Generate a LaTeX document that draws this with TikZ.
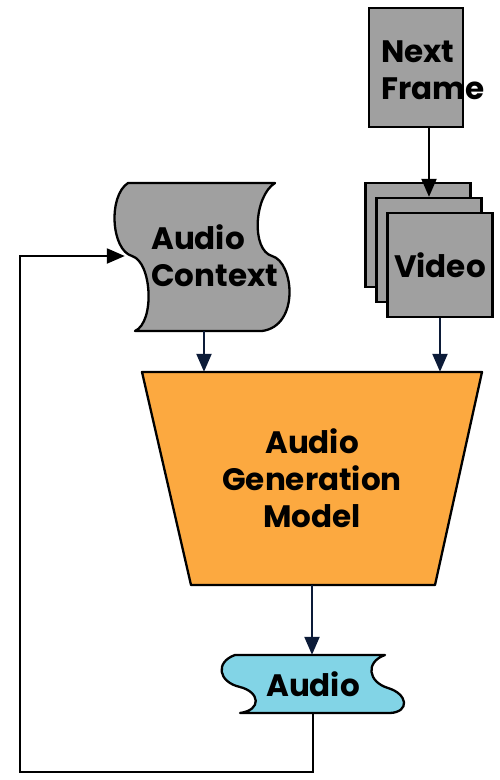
\documentclass[tikz,border=0pt]{standalone}
\usepackage{fontspec}
\setmainfont{Poppins}
\usetikzlibrary{arrows.meta,calc}
\definecolor{boxgray}{RGB}{160,160,160}
\definecolor{genorange}{RGB}{252,169,64}
\definecolor{audiocyan}{RGB}{130,212,230}
\definecolor{navy}{RGB}{12,27,56}
\begin{document}
\begin{tikzpicture}[x=1pt,y=-1pt,
  shapeline/.style={draw=black, line width=2.3pt, line join=round},
  lbl/.style={font=\fontsize{31}{37}\selectfont\bfseries, inner sep=0pt, text=black},
  anchorbox/.style={draw=none, inner sep=0pt},
  framebox/.style={draw=black, line width=2.3pt, fill=boxgray, inner sep=0pt, minimum width=105pt, minimum height=104pt},
  flow/.style={draw=navy, line width=2.2pt, -{Triangle[length=18pt,width=15pt]}},
  blackflow/.style={draw=black, line width=2.2pt, -{Triangle[length=18pt,width=15pt]}},
]
\useasboundingbox (0,0) rectangle (500,780);

% Next Frame
\node[framebox, minimum width=94pt, minimum height=119pt] (nf) at (416,67.5) {};
\node[lbl, anchor=west, align=left] (nft) at (381,70) {Next\\Frame};

% Video stack
\node[framebox] (v1) at (418,235) {};
\node[framebox] (v2) at (429,250) {};
\node[framebox, lbl] (v3) at (440,265) {Video};

% Audio Context (tape shape)
\path[shapeline, fill=boxgray] (128,183) -- (275,183)
  .. controls (254,196) and (251,250) .. (272,256)
  .. controls (294,262) and (300,326) .. (262,331)
  -- (135,331)
  .. controls (155,322) and (152,262) .. (132,256)
  .. controls (111,250) and (108,196) .. (128,183) -- cycle;
\node[anchorbox, minimum width=158pt, minimum height=150pt] (ctx) at (204,256) {};
\node[lbl, anchor=west, align=left] (ctxt) at (151,256) {Audio\\Context};

% Generation model (trapezoid)
\path[shapeline, fill=genorange] (142,372) -- (482,372) -- (435,585) -- (191,585) -- cycle;
\node[anchorbox, lbl, align=center, minimum width=340pt, minimum height=213pt] (gen) at (312,478.5) {Audio\\Generation\\Model};

% Audio (tape shape)
\path[shapeline, fill=audiocyan] (235,655) -- (385,655)
  .. controls (365,662) and (368,682) .. (388,688)
  .. controls (408,694) and (410,712) .. (390,713)
  -- (240,713)
  .. controls (262,710) and (260,692) .. (240,687)
  .. controls (218,682) and (215,662) .. (235,655) -- cycle;
\node[anchorbox, lbl, minimum width=170pt, minimum height=58pt] (aud) at (313,684) {Audio};

% connectors
\coordinate (fb) at (20,772);
\draw[blackflow] (v2.north |- nf.south) -- (v2.north);
\draw[flow] (ctx.south) -- (ctx.south |- gen.north);
\draw[flow] (v3.south) -- (v3.south |- gen.north);
\draw[flow] (gen.south) -- (gen.south |- aud.north);
\draw[blackflow] (aud.south) |- (fb) |- (ctx.west);
\end{tikzpicture}
\end{document}
